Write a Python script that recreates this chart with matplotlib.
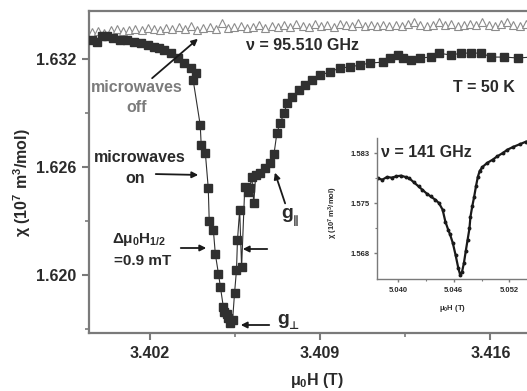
import numpy as np
import matplotlib
matplotlib.use('Agg')
import matplotlib.pyplot as plt

# microwaves on (filled squares)
field_on = [3.39963, 3.39984, 3.40005, 3.40026, 3.40050, 3.40080, 3.40109, 3.40134, 3.40163, 3.40192,
            3.40217, 3.40237, 3.40258, 3.40287, 3.40316, 3.40341, 3.40370, 3.40391, 3.40379, 3.40408,
            3.40412, 3.40429, 3.40441, 3.40445, 3.40462, 3.40470, 3.40483, 3.40491, 3.40503, 3.40507,
            3.40520, 3.40524, 3.40532, 3.40541, 3.40549, 3.40557, 3.40561, 3.40570, 3.40578, 3.40591,
            3.40603, 3.40611, 3.40620, 3.40628, 3.40636, 3.40653, 3.40674, 3.40694, 3.40711, 3.40723,
            3.40736, 3.40753, 3.40765, 3.40786, 3.40815, 3.40840, 3.40869, 3.40902, 3.40940, 3.40981,
            3.41023, 3.41064, 3.41106, 3.41160, 3.41189, 3.41222, 3.41243, 3.41272, 3.41313, 3.41355,
            3.41388, 3.41438, 3.41480, 3.41521, 3.41563, 3.41604, 3.41658, 3.41712, 3.41771]
chi_on = [1.63306, 1.63294, 1.63328, 1.63328, 1.63317, 1.63306, 1.63306, 1.63294, 1.63289, 1.63278,
          1.63267, 1.63261, 1.63250, 1.63233, 1.63206, 1.63178, 1.63150, 1.63122, 1.63083, 1.62833,
          1.62722, 1.62678, 1.62483, 1.62300, 1.62250, 1.62117, 1.62006, 1.61933, 1.61822, 1.61794,
          1.61783, 1.61761, 1.61733, 1.61750, 1.61900, 1.62028, 1.62194, 1.62361, 1.62044, 1.62489,
          1.62461, 1.62483, 1.62544, 1.62400, 1.62556, 1.62567, 1.62594, 1.62622, 1.62672, 1.62789,
          1.62844, 1.62900, 1.62956, 1.62989, 1.63028, 1.63056, 1.63083, 1.63111, 1.63128, 1.63150,
          1.63156, 1.63167, 1.63178, 1.63183, 1.63206, 1.63222, 1.63206, 1.63194, 1.63206, 1.63211,
          1.63233, 1.63222, 1.63233, 1.63233, 1.63233, 1.63211, 1.63211, 1.63206, 1.63211]

# microwaves off (open triangles), field swept evenly
field_off_start, field_off_end = 3.39963, 3.41771
chi_off = [1.63350, 1.63356, 1.63345, 1.63361, 1.63367, 1.63356, 1.63361,
           1.63367, 1.63361, 1.63372, 1.63367, 1.63361, 1.63372, 1.63367, 1.63378,
           1.63367, 1.63383, 1.63361, 1.63372, 1.63378, 1.63367, 1.63400, 1.63372,
           1.63378, 1.63383, 1.63372, 1.63378, 1.63389, 1.63372, 1.63383, 1.63378,
           1.63389, 1.63378, 1.63394, 1.63383, 1.63378, 1.63394, 1.63383, 1.63389,
           1.63378, 1.63394, 1.63389, 1.63383, 1.63400, 1.63383, 1.63389, 1.63383,
           1.63389, 1.63383, 1.63389, 1.63383, 1.63394, 1.63405, 1.63389, 1.63383,
           1.63389, 1.63405, 1.63389, 1.63394, 1.63383, 1.63389, 1.63394, 1.63389,
           1.63405, 1.63389, 1.63383, 1.63394, 1.63405, 1.63389, 1.63383, 1.63394, 1.63389]
field_off = np.linspace(field_off_start, field_off_end, len(chi_off))

# inset, 141 GHz
inset_field = [5.0378, 5.0383, 5.0388, 5.0393, 5.0398, 5.0403, 5.0408, 5.0412, 5.0417, 5.0422,
               5.0426, 5.0431, 5.0435, 5.0440, 5.0444, 5.0448, 5.0451, 5.0454, 5.0456, 5.0459,
               5.0462, 5.0465, 5.0467, 5.0469, 5.0471, 5.0473, 5.0475, 5.0477, 5.0478, 5.0480,
               5.0482, 5.0484, 5.0486, 5.0488, 5.0491, 5.0496, 5.0502, 5.0507, 5.0513, 5.0518,
               5.0524, 5.0531, 5.0538]
inset_chi = [1.5787, 1.5785, 1.5789, 1.5788, 1.5790, 1.5791, 1.5789, 1.5787, 1.5781, 1.5775,
             1.5770, 1.5764, 1.5760, 1.5755, 1.5750, 1.5740, 1.5722, 1.5710, 1.5703, 1.5690,
             1.5672, 1.5652, 1.5642, 1.5647, 1.5660, 1.5678, 1.5695, 1.5712, 1.5729, 1.5745,
             1.5759, 1.5775, 1.5789, 1.5798, 1.5804, 1.5810, 1.5815, 1.5820, 1.5825, 1.5830,
             1.5834, 1.5838, 1.5842]

main_xticks = [3.402, 3.409, 3.416]
main_yticks = [1.620, 1.626, 1.632]
inset_xticks = [5.040, 5.046, 5.052]
inset_xlabels = ['5.040', '5.046', '5.052']
inset_yticks = [1.5675, 1.5750, 1.5825]
inset_ylabels = ['1.568', '1.575', '1.583']

plt.rcParams['font.family'] = ['Liberation Sans', 'DejaVu Sans']
plt.rcParams['font.weight'] = 'bold'
plt.rcParams['mathtext.fontset'] = 'custom'
plt.rcParams['mathtext.rm'] = 'Liberation Sans:bold'
plt.rcParams['mathtext.it'] = 'Liberation Sans:bold'
plt.rcParams['mathtext.bf'] = 'Liberation Sans:bold'

W, H = 527, 391
fig = plt.figure(figsize=(W / 100, H / 100), dpi=100)


def fp(x, y):
    # image pixel (top-left origin) -> figure fraction
    return (x / W, 1 - y / H)


spine_col = '#7a7a7a'
txt_col = '#2a2a2a'

ax = fig.add_axes([89 / W, 1 - 333 / H, (540 - 89) / W, (333 - 11) / H])
ax.plot(field_off, chi_off, '^', ms=5.5, mfc='white', mec='#8c8c8c', mew=0.8, zorder=2)
ax.plot(field_on, chi_on, '-s', color='#303030', lw=0.8, ms=5.5, mec='#303030', zorder=3)

ax.set_xlim(3.39951, 3.41804)
ax.set_ylim(1.61678, 1.63467)
ax.set_xticks(main_xticks)
ax.set_xticks([3.4055, 3.4125], minor=True)
ax.set_yticks(main_yticks)
ax.set_yticks([1.617, 1.623, 1.629], minor=True)
ax.set_xticklabels(['%.3f' % v for v in main_xticks])
ax.set_yticklabels(['%.3f' % v for v in main_yticks])
ax.tick_params(which='major', direction='out', length=5, width=1.5, color=spine_col,
               labelsize=11.5, labelcolor=txt_col, pad=4)
ax.tick_params(which='minor', direction='out', length=3, width=1.2, color=spine_col)
ax.spines['right'].set_visible(False)
for s in ['left', 'bottom', 'top']:
    ax.spines[s].set_color(spine_col)
    ax.spines[s].set_linewidth(1.6)

fig.text(*fp(22, 183), r'χ (10$^7$ m$^3$/mol)', rotation=90, ha='center', va='center',
         fontsize=11.5, color=txt_col)
fig.text(*fp(317, 380), r'μ$_0$H (T)', ha='center', va='center', fontsize=11.5, color=txt_col)

fig.text(*fp(302, 45), 'ν = 95.510 GHz', ha='center', va='center', fontsize=11.5, color=txt_col)
fig.text(*fp(484, 88), 'T = 50 K', ha='center', va='center', fontsize=11.5, color=txt_col)

gray = '#7c7c7c'
fig.text(*fp(137, 88), 'microwaves', ha='center', va='center', fontsize=11.5, color=gray)
fig.text(*fp(137, 108), 'off', ha='center', va='center', fontsize=11.5, color=gray)
fig.text(*fp(140, 157), 'microwaves', ha='center', va='center', fontsize=11.5, color=txt_col)
fig.text(*fp(135, 178), 'on', ha='center', va='center', fontsize=11.5, color=txt_col)
fig.text(*fp(139, 240), r'Δμ$_0$H$_{1/2}$', ha='center', va='center', fontsize=11, color=txt_col)
fig.text(*fp(143, 261), '=0.9 mT', ha='center', va='center', fontsize=11, color=txt_col)

# g labels: letter plus a small symbol subscript
fig.text(*fp(287, 214), 'g', ha='center', va='center', fontsize=14, color=txt_col)
fig.text(*fp(296, 221), '∥', ha='center', va='center', fontsize=8, color=txt_col,
         family=['DejaVu Sans'])
fig.text(*fp(283, 319), 'g', ha='center', va='center', fontsize=14, color=txt_col)
fig.text(*fp(293, 326), '⊥', ha='center', va='center', fontsize=8, color=txt_col,
         family=['DejaVu Sans'])

arrows = [((150, 80), (200, 37)),
          ((153, 174), (201, 175)),
          ((178, 248), (209, 248)),
          ((270, 249), (240, 249)),
          ((272, 325), (238, 325)),
          ((286, 206), (274, 170))]
for start, end in arrows:
    fig.add_artist(matplotlib.patches.FancyArrowPatch(
        fp(*start), fp(*end), transform=fig.transFigure, arrowstyle='-|>',
        mutation_scale=9, lw=1.3, color='#1a1a1a'))

# inset
ins = fig.add_axes([377 / W, 1 - 279 / H, (545 - 377) / W, (279 - 138) / H])
ins.plot(inset_field, inset_chi, '-o', color='#1a1a1a', lw=1.6, ms=1.8)
ins.set_xlim(5.03772, 5.05585)
ins.set_ylim(1.5636, 1.58475)
ins.set_xticks(inset_xticks)
ins.set_xticklabels(inset_xlabels)
ins.set_xticks([5.043, 5.049], minor=True)
ins.set_yticks(inset_yticks)
ins.set_yticklabels(inset_ylabels)
ins.set_yticks([1.57125, 1.57875], minor=True)
ins.tick_params(which='major', direction='out', length=2.5, width=1, color=spine_col,
                labelsize=5.5, labelcolor=txt_col, pad=3)
ins.tick_params(which='minor', direction='out', length=1.5, width=0.8, color=spine_col)
ins.spines['right'].set_visible(False)
ins.spines['top'].set_visible(False)
for s in ['left', 'bottom']:
    ins.spines[s].set_color(spine_col)
    ins.spines[s].set_linewidth(1.0)
ins.text(5.0381, 1.5826, 'ν = 141 GHz', ha='left', va='center', fontsize=11.5, color=txt_col)
fig.text(*fp(333, 213), r'χ (10$^7$ m$^3$/mol)', rotation=90, ha='center', va='center',
         fontsize=5.5, color=txt_col)
fig.text(*fp(452, 308), r'μ$_0$H (T)', ha='center', va='center', fontsize=5.5, color=txt_col)

fig.savefig('out.png', dpi=100)
